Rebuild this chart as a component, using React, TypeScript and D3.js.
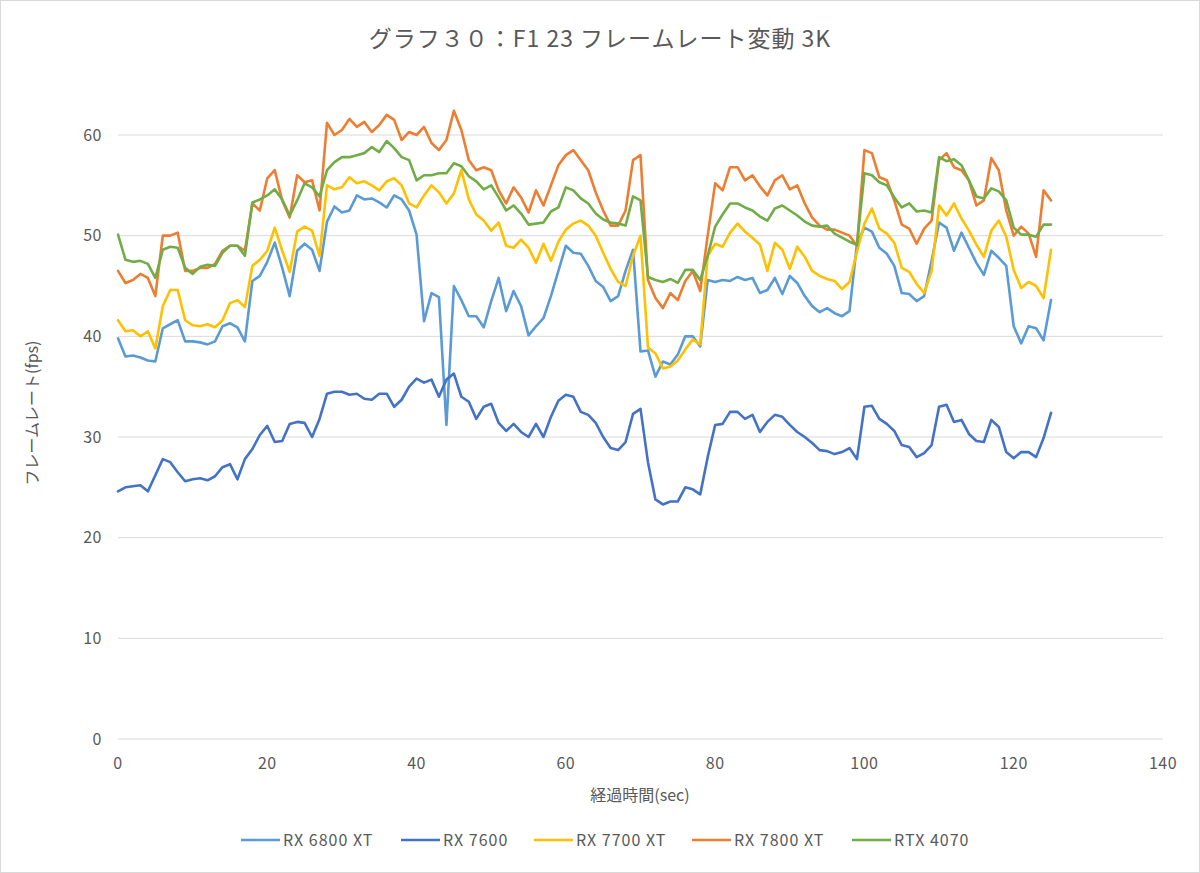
import React from "react";
import * as d3 from "d3";

const seconds: number[] = Array.from({ length: 126 }, (_, i) => i);

const rx6800xt: number[] = [
  39.8, 38.0, 38.1, 37.9, 37.6, 37.5, 40.8, 41.2, 41.6, 39.5,
  39.5, 39.4, 39.2, 39.5, 41.0, 41.3, 40.9, 39.5, 45.5, 46.0,
  47.4, 49.3, 46.8, 44.0, 48.5, 49.2, 48.6, 46.5, 51.4, 52.9,
  52.3, 52.5, 54.0, 53.6, 53.7, 53.3, 52.8, 54.0, 53.6, 52.5,
  50.1, 41.5, 44.3, 43.9, 31.2, 45.0, 43.6, 42.0, 42.0, 40.9,
  43.5, 45.8, 42.5, 44.5, 43.0, 40.1, 41.0, 41.8, 44.0, 46.5,
  49.0, 48.3, 48.2, 47.0, 45.5, 44.9, 43.5, 44.0, 46.5, 48.6,
  38.5, 38.6, 36.0, 37.5, 37.2, 38.2, 40.0, 40.0, 39.0, 45.6,
  45.4, 45.6, 45.5, 45.9, 45.6, 45.8, 44.3, 44.6, 45.8, 44.2,
  46.0, 45.3, 44.0, 43.0, 42.4, 42.8, 42.3, 42.0, 42.5, 49.2,
  50.8, 50.4, 48.8, 48.2, 47.0, 44.3, 44.2, 43.5, 44.0, 47.5,
  51.3, 50.8, 48.5, 50.3, 48.8, 47.3, 46.1, 48.5, 47.8, 47.0,
  41.0, 39.3, 41.0, 40.8, 39.6, 43.6,
];

const rx7600: number[] = [
  24.6, 25.0, 25.1, 25.2, 24.6, 26.2, 27.8, 27.5, 26.5, 25.6,
  25.8, 25.9, 25.7, 26.1, 27.0, 27.3, 25.8, 27.8, 28.8, 30.2,
  31.1, 29.5, 29.6, 31.3, 31.5, 31.4, 30.0, 31.8, 34.3, 34.5,
  34.5, 34.2, 34.3, 33.8, 33.7, 34.3, 34.3, 33.0, 33.7, 35.0,
  35.8, 35.4, 35.7, 34.0, 35.7, 36.3, 34.0, 33.5, 31.8, 33.0,
  33.3, 31.4, 30.6, 31.3, 30.5, 30.0, 31.3, 30.0, 32.0, 33.6,
  34.2, 34.0, 32.5, 32.2, 31.4, 30.0, 28.9, 28.7, 29.5, 32.3,
  32.8, 27.5, 23.8, 23.3, 23.6, 23.6, 25.0, 24.8, 24.3, 28.0,
  31.2, 31.3, 32.5, 32.5, 31.8, 32.2, 30.5, 31.5, 32.2, 32.0,
  31.2, 30.5, 30.0, 29.4, 28.7, 28.6, 28.3, 28.5, 28.9, 27.8,
  33.0, 33.1, 31.8, 31.3, 30.6, 29.2, 29.0, 28.0, 28.4, 29.2,
  33.0, 33.2, 31.5, 31.7, 30.3, 29.6, 29.5, 31.7, 31.0, 28.5,
  27.9, 28.5, 28.5, 28.0, 29.9, 32.4,
];

const rx7700xt: number[] = [
  41.6, 40.5, 40.6, 40.0, 40.5, 38.8, 43.0, 44.6, 44.6, 41.6,
  41.1, 41.0, 41.2, 40.9, 41.6, 43.3, 43.6, 42.9, 47.0, 47.6,
  48.5, 50.8, 48.5, 46.4, 50.4, 50.9, 50.5, 48.0, 55.0, 54.6,
  54.8, 55.8, 55.2, 55.4, 55.0, 54.5, 55.4, 55.7, 55.0, 53.2,
  52.8, 54.0, 55.0, 54.3, 53.2, 54.2, 56.5, 53.6, 52.1, 51.5,
  50.5, 51.3, 49.0, 48.8, 49.6, 48.8, 47.3, 49.2, 47.5, 49.4,
  50.6, 51.2, 51.5, 51.0, 50.0, 48.3, 46.7, 45.4, 45.0, 48.0,
  50.0, 38.9, 38.3, 36.8, 37.0, 37.6, 38.7, 39.7, 39.2, 48.0,
  49.2, 48.9, 50.3, 51.2, 50.4, 49.8, 49.1, 46.5, 49.3, 48.6,
  46.7, 48.9, 47.9, 46.5, 46.0, 45.7, 45.5, 44.7, 45.4, 48.4,
  51.2, 52.7, 50.7, 50.2, 49.3, 46.8, 46.4, 45.2, 44.3, 46.5,
  53.0, 52.0, 53.2, 51.7, 50.5, 49.1, 47.9, 50.5, 51.5, 49.9,
  46.6, 44.8, 45.4, 45.0, 43.8, 48.6,
];

const rx7800xt: number[] = [
  46.5, 45.3, 45.6, 46.2, 45.8, 44.0, 50.0, 50.0, 50.3, 46.5,
  46.5, 46.8, 46.8, 47.2, 48.5, 49.0, 49.0, 48.5, 53.2, 52.5,
  55.7, 56.5, 53.5, 51.8, 56.0, 55.3, 55.5, 52.5, 61.2, 60.0,
  60.5, 61.6, 60.8, 61.3, 60.3, 61.0, 62.0, 61.5, 59.5, 60.3,
  60.0, 60.8, 59.2, 58.5, 59.5, 62.4, 60.5, 57.5, 56.5, 56.8,
  56.5, 54.5, 53.2, 54.8, 53.8, 52.3, 54.5, 53.0, 55.0, 57.0,
  58.0, 58.5, 57.5, 56.5, 54.3, 52.5, 51.0, 51.0, 52.5, 57.5,
  58.0, 45.6, 43.8, 42.8, 44.3, 43.6, 45.5, 46.5, 44.5, 50.0,
  55.2, 54.5, 56.8, 56.8, 55.5, 56.0, 54.9, 54.0, 55.5, 56.0,
  54.6, 55.0, 53.2, 51.8, 51.0, 50.6, 50.6, 50.3, 50.0, 49.0,
  58.5, 58.2, 55.8, 55.5, 53.5, 51.1, 50.7, 49.2, 50.7, 51.5,
  57.5, 58.2, 56.8, 56.5, 55.5, 53.0, 53.5, 57.7, 56.5, 52.5,
  50.0, 50.9, 50.2, 47.9, 54.5, 53.5,
];

const rtx4070: number[] = [
  50.1, 47.6, 47.4, 47.5, 47.2, 45.8, 48.6, 48.9, 48.8, 46.8,
  46.2, 46.9, 47.1, 47.0, 48.3, 49.0, 49.0, 48.0, 53.3, 53.6,
  54.0, 54.6, 53.6, 52.0, 53.5, 55.2, 54.8, 53.9, 56.5, 57.3,
  57.8, 57.8, 58.0, 58.2, 58.8, 58.3, 59.4, 58.7, 57.8, 57.5,
  55.5, 56.0, 56.0, 56.2, 56.2, 57.2, 56.9, 55.9, 55.4, 54.6,
  55.0, 53.8, 52.5, 53.0, 52.2, 51.1, 51.2, 51.3, 52.4, 52.8,
  54.8, 54.5, 53.7, 53.2, 52.2, 51.6, 51.3, 51.2, 51.0, 53.9,
  53.5, 45.9, 45.6, 45.4, 45.7, 45.3, 46.6, 46.6, 45.6, 48.0,
  50.9, 52.1, 53.2, 53.2, 52.8, 52.5, 51.9, 51.5, 52.7, 53.0,
  52.5, 52.0, 51.4, 51.0, 50.9, 51.0, 50.2, 49.8, 49.4, 49.1,
  56.2, 56.0, 55.3, 55.0, 53.8, 52.8, 53.2, 52.4, 52.5, 52.3,
  57.8, 57.4, 57.6, 57.0, 55.5, 53.9, 53.7, 54.7, 54.4, 53.5,
  50.8, 50.1, 50.1, 49.9, 51.1, 51.1,
];

const seriesNames: string[] = ["RX 6800 XT", "RX 7600", "RX 7700 XT", "RX 7800 XT", "RTX 4070"];
const seriesValues: number[][] = [rx6800xt, rx7600, rx7700xt, rx7800xt, rtx4070];
const seriesColors: string[] = ["#5B9BD5", "#4472C4", "#FFC000", "#ED7D31", "#70AD47"];

const yTicks: number[] = [0, 10, 20, 30, 40, 50, 60];
const xTicks: number[] = [0, 20, 40, 60, 80, 100, 120, 140];

const titleText = "グラフ３０：F1 23 フレームレート変動 3K";
const xAxisTitle = "経過時間(sec)";
const yAxisTitle = "フレームレート(fps)";

const W = 1200;
const H = 873;
const FONT = "'Noto Sans CJK JP', 'Noto Sans', sans-serif";
const TEXT = "#595959";

export default function App() {
  const x = d3.scaleLinear().domain([0, 140]).range([118, 1163]);
  const y = d3.scaleLinear().domain([0, 60]).range([739, 135]);

  const line = d3
    .line<number>()
    .x((_, i) => x(seconds[i]))
    .y((d) => y(d));

  const legendX = [241, 401, 534, 692, 852];

  return (
    <svg
      width={W}
      height={H}
      style={{ position: "absolute", left: 0, top: 0, background: "#fff" }}
      fontFamily={FONT}
    >
      <rect x={0.5} y={0.5} width={W - 1} height={H - 1} fill="#fff" stroke="#d9d9d9" />
      <text x={600} y={47} textAnchor="middle" fontSize={23} letterSpacing={1} fill={TEXT}>
        {titleText}
      </text>

      {yTicks.map((t) => (
        <g key={"y" + t}>
          <line x1={x(0)} x2={x(140)} y1={y(t)} y2={y(t)} stroke="#d9d9d9" strokeWidth={1} />
          <text x={102} y={y(t) + 5.5} textAnchor="end" fontSize={16} letterSpacing={0.5} fill={TEXT}>
            {t}
          </text>
        </g>
      ))}
      {xTicks.map((t) => (
        <text key={"x" + t} x={x(t)} y={769} textAnchor="middle" fontSize={16} letterSpacing={0.5} fill={TEXT}>
          {t}
        </text>
      ))}

      <text x={640} y={801} textAnchor="middle" fontSize={16} fill={TEXT}>
        {xAxisTitle}
      </text>
      <text
        transform={`translate(38, 413) rotate(-90)`}
        textAnchor="middle"
        fontSize={16}
        fill={TEXT}
      >
        {yAxisTitle}
      </text>

      {seriesValues.map((vals, k) => (
        <path
          key={seriesNames[k]}
          d={line(vals) || ""}
          fill="none"
          stroke={seriesColors[k]}
          strokeWidth={2.6}
          strokeLinejoin="round"
          strokeLinecap="round"
        />
      ))}

      {seriesNames.map((name, k) => (
        <g key={"lg" + name}>
          <line
            x1={legendX[k]}
            x2={legendX[k] + 39}
            y1={840}
            y2={840}
            stroke={seriesColors[k]}
            strokeWidth={2.6}
          />
          <text x={legendX[k] + 42} y={845.5} fontSize={16} letterSpacing={1} fill={TEXT}>
            {name}
          </text>
        </g>
      ))}
    </svg>
  );
}
